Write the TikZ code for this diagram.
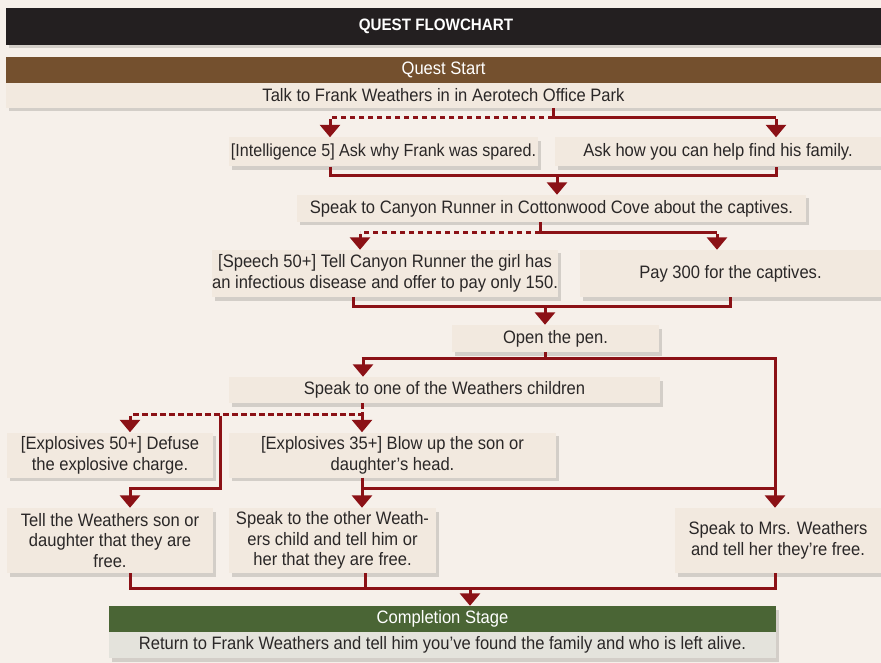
\documentclass[tikz,border=0pt]{standalone}
\usepackage{fontspec}
\setmainfont{Liberation Sans}[FakeStretch=0.92]
\usetikzlibrary{arrows.meta,shadows}
\definecolor{bgc}{HTML}{F6F0EA}
\definecolor{boxc}{HTML}{F2E9DF}
\definecolor{titlec}{HTML}{231F20}
\definecolor{brownc}{HTML}{74502E}
\definecolor{greenc}{HTML}{4A6535}
\definecolor{retc}{HTML}{E4E3DC}
\definecolor{redc}{HTML}{8B1116}
\definecolor{txtc}{HTML}{2A2727}
\begin{document}
\begin{tikzpicture}[x=1pt,y=-1pt,
  sh/.style={drop shadow={shadow xshift=3pt,shadow yshift=-3.5pt,fill=black,opacity=0.14}},
  box/.style={sh,fill=boxc,inner sep=0pt,align=center,text=txtc,font=\fontsize{18}{20.8}\selectfont},
  bar/.style={fill=#1,inner sep=0pt,align=center,text=white,font=\fontsize{18}{20}\selectfont},
  ln/.style={draw=redc,line width=3pt},
  dsh/.style={ln,dash pattern=on 5.5pt off 3.5pt},
  arr/.style={ln,-{Triangle[width=20pt,length=12.5pt]}}]
\useasboundingbox (0,0) rectangle (881,663);
\fill[bgc] (0,0) rectangle (881,663);
\node[sh,fill=titlec,minimum width=875,minimum height=37,inner sep=0pt] (title) at (443.5,26.5) {};
\node[text=white,inner sep=0pt,font=\fontsize{16.5}{18}\bfseries\selectfont] (titletext) at (436,26.5) {QUEST FLOWCHART};
\node[sh,fill=boxc,minimum width=875,minimum height=51,inner sep=0pt] (startbg) at (443.5,82.5) {};
\node[bar=brownc,minimum width=875,minimum height=26] (qstart) at (443.5,70) {Quest Start};
\node[inner sep=0pt,minimum width=875,minimum height=25,text=txtc,font=\fontsize{18}{20}\selectfont] (talk) at (443.5,95.5) {Talk to Frank Weathers in in Aerotech Office Park};
\node[box,minimum width=309,minimum height=29,font=\fontsize{17.5}{20}\selectfont] (intel) at (383.5,152) {[Intelligence 5] Ask why Frank was spared.};
\node[box,minimum width=326,minimum height=29] (askhow) at (718,152) {Ask how you can help find his family.};
\node[box,minimum width=509,minimum height=27] (canyon) at (551.5,208.5) {Speak to Canyon Runner in Cottonwood Cove about the captives.};
\node[box,minimum width=344,minimum height=47] (speech) at (385,273.5) {[Speech 50+] Tell Canyon Runner the girl has\\an infectious disease and offer to pay only 150.};
\node[box,minimum width=301,minimum height=47] (pay) at (730.5,273.5) {Pay 300 for the captives.};
\node[box,minimum width=207,minimum height=27] (pen) at (555.5,338.5) {Open the pen.};
\node[box,minimum width=431,minimum height=26] (children) at (444.5,390) {Speak to one of the Weathers children};
\node[box,minimum width=206,minimum height=45] (exp50) at (110,455) {[Explosives 50+] Defuse\\the explosive charge.};
\node[box,minimum width=327,minimum height=45] (exp35) at (392.5,455) {[Explosives 35+] Blow up the son or\\daughter’s head.};
\node[box,minimum width=206,minimum height=65] (tell) at (110,540.5) {Tell the Weathers son or\\daughter that they are\\free.};
\node[box,minimum width=207,minimum height=65] (other) at (332.5,540.5) {Speak to the other Weath-\\ers child and tell him or\\her that they are free.};
\node[box,minimum width=207,minimum height=65] (mrs) at (778,540.5) {Speak to Mrs. Weathers\\and tell her they’re free.};
\node[sh,fill=retc,minimum width=667,minimum height=52,inner sep=0pt] (endbg) at (442.5,632) {};
\node[bar=greenc,minimum width=667,minimum height=26] (comp) at (442.5,619) {Completion Stage};
\node[inner sep=0pt,minimum width=667,minimum height=26,text=txtc,font=\fontsize{18}{20}\selectfont] (ret) at (442.5,645) {Return to Frank Weathers and tell him you’ve found the family and who is left alive.};
% branch 1
\coordinate (a1) at (553,118); \coordinate (a1l) at (330,118); \coordinate (a1r) at (776,118);
\draw[ln] (talk.south -| a1) -- (a1) -- (a1r);
\draw[dsh] (a1) -- (a1l);
\draw[arr] ([yshift=-1.5pt]a1l) -- (intel.north -| a1l);
\draw[arr] ([yshift=-1.5pt]a1r) -- (askhow.north -| a1r);
% merge 1
\coordinate (m1) at (557,176);
\draw[ln] (intel.south -| a1l) -- (a1l |- m1) -- (a1r |- m1) -- (askhow.south -| a1r);
\draw[arr] (m1) -- (canyon.north -| m1);
% branch 2
\coordinate (b1) at (540,233); \coordinate (b1l) at (360,233); \coordinate (b1r) at (717,233);
\draw[ln] (canyon.south -| b1) -- (b1) -- (b1r);
\draw[dsh] (b1) -- (b1l);
\draw[arr] ([yshift=-1.5pt]b1l) -- (speech.north -| b1l);
\draw[arr] ([yshift=-1.5pt]b1r) -- (pay.north -| b1r);
% merge 2
\coordinate (m2) at (545,306); \coordinate (m2l) at (353,306); \coordinate (m2r) at (730,306);
\draw[ln] (speech.south -| m2l) -- (m2l) -- (m2r) -- (pay.south -| m2r);
\draw[arr] (m2) -- (pen.north -| m2);
% branch 3
\coordinate (c1) at (545,358); \coordinate (c1l) at (363,358); \coordinate (c1r) at (775,358);
\draw[ln] (pen.south -| c1) -- (c1);
\draw[ln] ([xshift=-1.5pt]c1l) -- ([xshift=1.5pt]c1r);
\draw[arr] ([yshift=-1.5pt]c1l) -- (children.north -| c1l);
\draw[arr] ([yshift=-1.5pt]c1r) -- (mrs.north -| c1r);
% branch 4
\coordinate (d1) at (362,414); \coordinate (d1l) at (130,414);
\coordinate (d2) at (220,414); \coordinate (d3) at (220,488); \coordinate (d4) at (130,488);
\draw[dsh] (children.south -| d1) -- (d1) -- (d1l);
\draw[arr] ([yshift=-1.5pt]d1l) -- (exp50.north -| d1l);
\draw[arr] ([yshift=-1.5pt]d1) -- (exp35.north -| d1);
\draw[ln] ([yshift=-1.5pt]d2) -- (d3) -- ([xshift=-1.5pt]d4);
\draw[arr] ([yshift=-1.5pt]d4) -- (tell.north -| d4);
% exp35
\coordinate (e1) at (362,488);
\draw[arr] (exp35.south -| e1) -- (other.north -| e1);
\draw[ln] (e1) -- (c1r |- e1);
% final merge
\coordinate (f1) at (470,588); \coordinate (f2) at (365,588);
\draw[ln] (tell.south -| d4) -- (d4 |- f1) -- (c1r |- f1) -- (mrs.south -| c1r);
\draw[ln] (other.south -| f2) -- (f2);
\draw[arr] ([yshift=-1.5pt]f1) -- (comp.north -| f1);
\end{tikzpicture}
\end{document}
